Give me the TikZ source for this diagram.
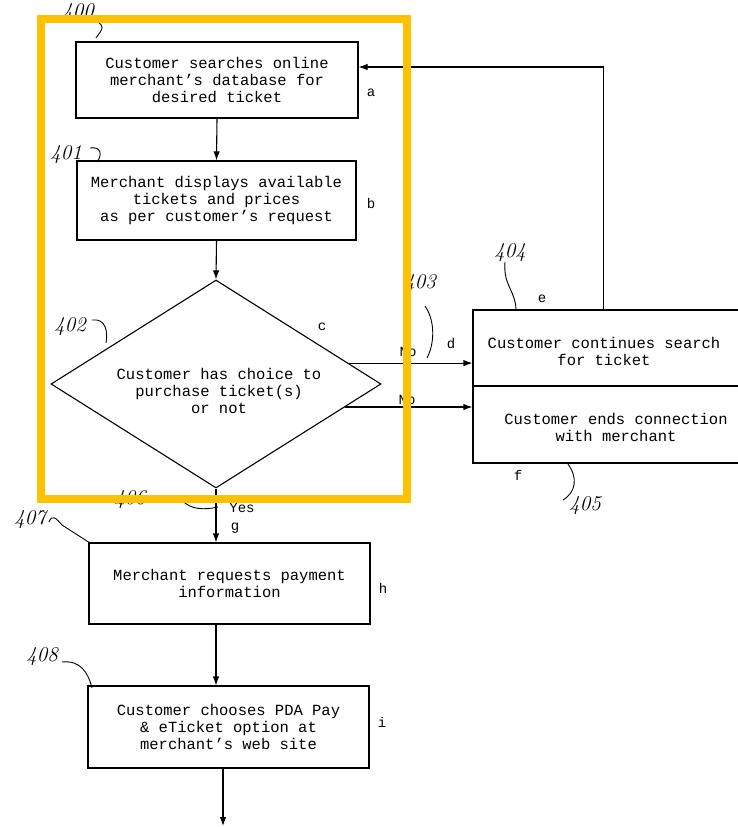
\documentclass[tikz,border=0pt]{standalone}
\usepackage{fontspec}
\setmonofont{Liberation Mono}
\usetikzlibrary{arrows.meta,shapes.geometric,calc}
\definecolor{hl}{RGB}{255,192,0}
\begin{document}
\begin{tikzpicture}[x=1pt,y=-1pt,
  box/.style={draw,line width=1.1pt,rectangle,inner sep=0pt,align=center,font=\ttfamily\fontsize{15.5}{17}\selectfont},
  txt/.style={align=center,font=\ttfamily\fontsize{15.5}{17}\selectfont,inner sep=0pt},
  lbl/.style={font=\ttfamily\fontsize{14}{14}\selectfont,inner sep=0pt},
  hand/.style={font=\itshape\fontsize{21}{21}\selectfont,inner sep=0pt},
  lead/.style={line width=0.9pt},
  arr/.style={line width=1.1pt,-{Latex[length=9pt,width=6.5pt]}},
  ln/.style={line width=1.1pt}]
\useasboundingbox (0,0) rectangle (737,827);

% boxes
\node[box,minimum width=282pt,minimum height=76pt] (A) at (217,80)
  {Customer searches online\\merchant’s database for\\desired ticket};
\node[box,minimum width=279pt,minimum height=79pt] (B) at (216.5,200.5)
  {Merchant displays available\\tickets and prices\\as per customer’s request};
\node[draw,diamond,line width=1.1pt,inner sep=0pt,minimum width=330pt,minimum height=208pt] (dia) at (216,384) {};
\node[txt] (diat) at (219,391) {Customer has choice to\\purchase ticket(s)\\or not};
\node[draw,line width=1.1pt,minimum width=327pt,minimum height=76pt,inner sep=0pt] (R1) at (636.5,348) {};
\node[draw,line width=1.1pt,minimum width=327pt,minimum height=77pt,inner sep=0pt] (R2) at (636.5,424.5) {};
\node[txt] (R1t) at (604,351) {Customer continues search\\for ticket};
\node[txt] (R2t) at (616,427) {Customer ends connection\\with merchant};
\node[box,minimum width=281pt,minimum height=81pt] (C) at (229.5,583.5)
  {Merchant requests payment\\information};
\node[box,minimum width=281pt,minimum height=82pt] (D) at (228.5,727)
  {Customer chooses PDA Pay\\\& eTicket option at\\merchant’s web site};

% connectors
\draw[arr] (A.south) -- (B.north);
\draw[arr] (B.south) -- (dia.north);
\coordinate (n1) at ($(dia.east)!0.2!(dia.north)$);
\coordinate (n2) at ($(dia.east)!0.22!(dia.south)$);
\draw[arr] (n1) -- (n1 -| R1.west);
\draw[arr] (n2) -- (n2 -| R2.west);
\draw[arr] ([xshift=131pt]R1.north west) |- ([yshift=13pt]A.east);
\draw[arr] (dia.south) -- (dia.south |- C.north);
\draw[arr] (dia.south |- C.south) -- (dia.south |- D.north);
\coordinate (out) at (223,826);
\draw[arr] (out |- D.south) -- (out);

% letters
\node[lbl] (la) at (371,93) {a};
\node[lbl] (lb) at (371,203) {b};
\node[lbl] (lc) at (322,327) {c};
\node[lbl] (ld) at (451,344) {d};
\node[lbl] (le) at (542,299) {e};
\node[lbl] (lf) at (518,475) {f};
\node[lbl] (lg) at (235,528) {g};
\node[lbl] (lh) at (383,588) {h};
\node[lbl] (li) at (382,722) {i};
\node[lbl] (no1) at (408,352) {No};
\node[lbl] (no2) at (407,400) {No};
\node[lbl] (yes) at (242,508) {Yes};

% handwritten reference numbers
\node[hand] (h400) at (78,13) {400};
\node[hand] (h401) at (66,155) {401};
\node[hand] (h402) at (70,327) {402};
\node[hand] (h403) at (420,284) {403};
\node[hand] (h404) at (510,253) {404};
\node[hand] (h405) at (585,506) {405};
\node[hand] (h406) at (130,500) {406};
\node[hand] (h407) at (30,520) {407};
\node[hand] (h408) at (42,657) {408};
\draw[lead] (97,21) .. controls (104,27) .. (96,38);
\draw[lead] (90,148) .. controls (102,146) and (102,156) .. (97,162);
\draw[lead] (92,320) .. controls (106,318) and (108,332) .. (106,343);
\draw[lead] (425,306) .. controls (436,322) and (434,345) .. (427,358);
\draw[lead] (505,262) .. controls (503,285) and (515,290) .. (516,309);
\draw[lead] (568,464) .. controls (578,478) and (576,492) .. (563,500);
\draw[lead] (182,500) .. controls (190,510) and (205,510) .. (218,507);
\draw[lead] (49,522) .. controls (52,514) and (56,518) .. (62,525) -- (90,543);
\draw[lead] (62,662) .. controls (80,660) and (88,672) .. (92,688);

% highlight frame
\draw[hl,line width=8pt] (41,19) rectangle (407,499);
\end{tikzpicture}
\end{document}
